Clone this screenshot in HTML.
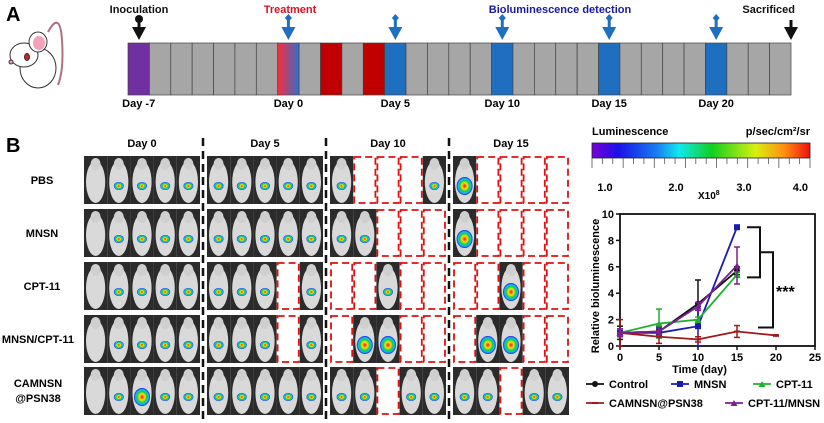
<!DOCTYPE html>
<html><head><meta charset="utf-8"><style>
html,body{margin:0;padding:0;background:#fff;}
svg{display:block;font-family:"Liberation Sans",Arial,sans-serif;}
</style></head><body>
<svg id="root" width="824" height="423" viewBox="0 0 824 423">
<defs>
<linearGradient id="tg" x1="0" x2="1"><stop offset="0" stop-color="#ff2a3a"/><stop offset="1" stop-color="#2f6fd0"/></linearGradient>
<linearGradient id="cb" x1="0" x2="1">
<stop offset="0" stop-color="#7a00d8"/><stop offset="0.12" stop-color="#1a10e8"/><stop offset="0.3" stop-color="#1880f0"/><stop offset="0.4" stop-color="#10e8f0"/><stop offset="0.55" stop-color="#10d020"/><stop offset="0.75" stop-color="#d8f010"/><stop offset="0.88" stop-color="#ff9010"/><stop offset="1" stop-color="#f01010"/></linearGradient>
<radialGradient id="blob"><stop offset="0" stop-color="#ff1010"/><stop offset="0.35" stop-color="#ffe010"/><stop offset="0.6" stop-color="#10d040"/><stop offset="0.8" stop-color="#10c0f0"/><stop offset="1" stop-color="#2020e0"/></radialGradient>
</defs>
<text x="6" y="21" font-size="20" font-weight="bold">A</text>
<text x="6" y="152" font-size="20" font-weight="bold">B</text>
<g fill="#fff" stroke="#333" stroke-width="1">
<path d="M48 32 Q60 10 62 40 Q64 70 58 85" fill="none" stroke="#b07080" stroke-width="2"/>
<ellipse cx="38" cy="68" rx="18" ry="20"/>
<ellipse cx="24" cy="55" rx="14" ry="12"/>
<ellipse cx="38" cy="42" rx="9" ry="10"/><ellipse cx="39" cy="43" rx="6" ry="7" fill="#f4a0b8" stroke="none"/>
<ellipse cx="27" cy="57" rx="2.5" ry="3.5" fill="#d02020"/>
<circle cx="11" cy="62" r="2" fill="#f4a0b8"/>
</g>
<g id="timeline"></g>
<g id="grid"></g>
<g>
<text x="592" y="135" font-size="11" font-weight="bold">Luminescence</text>
<text x="810" y="135" font-size="11" font-weight="bold" text-anchor="end">p/sec/cm²/sr</text>
<rect x="592" y="143" width="218" height="15" fill="url(#cb)" stroke="#222" stroke-width="0.8"/>
<g id="cbticks"></g>
<text x="605" y="191" font-size="11" font-weight="bold" text-anchor="middle">1.0</text>
<text x="676" y="191" font-size="11" font-weight="bold" text-anchor="middle">2.0</text>
<text x="744" y="191" font-size="11" font-weight="bold" text-anchor="middle">3.0</text>
<text x="808" y="191" font-size="11" font-weight="bold" text-anchor="end">4.0</text>
<text x="698" y="199" font-size="10" font-weight="bold">X10<tspan font-size="7" dy="-4">8</tspan></text>
</g>
<g id="chart"></g>
</svg>
<script>
const NS="http://www.w3.org/2000/svg";
function mk(p,t,a,txt){const e=document.createElementNS(NS,t);for(const k in a)e.setAttribute(k,a[k]);if(txt!==undefined)e.textContent=txt;p.appendChild(e);return e;}
const tl=document.getElementById('timeline');
const X0=128,CW=663/31;
const special={0:'#7030a0',7:'url(#tg)',9:'#c00000',11:'#c00000',12:'#1f6fc0',17:'#1f6fc0',22:'#1f6fc0',27:'#1f6fc0'};
for(let i=0;i<31;i++){const r=mk(tl,'rect',{x:X0+i*CW,y:43,width:CW,height:52,fill:special[i]||'#a6a6a6',stroke:'#444','stroke-width':0.7});
}
function arrow(cx,col,pin){mk(tl,'polygon',{points:`${cx-7},27 ${cx+7},27 ${cx},40`,fill:col});mk(tl,'rect',{x:cx-1.5,y:20,width:3,height:8,fill:col});
 if(pin==='dot')mk(tl,'circle',{cx:cx,cy:19,r:4,fill:col});else if(pin==='dia')mk(tl,'polygon',{points:`${cx},14 ${cx+3.5},18 ${cx},22 ${cx-3.5},18`,fill:col});}
arrow(139,'#111','dot');[7,12,17,22,27].forEach(i=>arrow(X0+(i+.5)*CW,'#1f6fc0','dia'));arrow(791,'#111','');
const lab=[['Inoculation',139,'#111'],['Treatment',290,'#e01020'],['Bioluminescence detection',560,'#1a1aa0'],['Sacrificed',795,'#111']];
lab.forEach(l=>{const t=mk(tl,'text',{x:l[1],y:13,'font-size':11,'font-weight':'bold',fill:l[2],'text-anchor':l[0]==='Sacrificed'?'end':'middle'},l[0]);});
[['Day -7',0],['Day 0',7],['Day 5',12],['Day 10',17],['Day 15',22],['Day 20',27]].forEach(d=>{const t=mk(tl,'text',{x:X0+(d[1]+.5)*CW,y:107,'font-size':11,'font-weight':'bold','text-anchor':'middle'},d[0]);});
const g=document.getElementById('grid');
const cols=[84,207,330,453],PW=116,SW=PW/5;
const rowsY=[156,209,262,315,367],PH=48;
const rowNames=['PBS','MNSN','CPT-11','MNSN/CPT-11','CAMNSN'];
['Day 0','Day 5','Day 10','Day 15'].forEach((d,i)=>{const t=mk(g,'text',{x:cols[i]+PW/2,y:147,'font-size':11,'font-weight':'bold','text-anchor':'middle'},d);});
[203,326,449].forEach(x=>mk(g,'line',{x1:x,y1:138,x2:x,y2:420,stroke:'#111','stroke-width':2.5,'stroke-dasharray':'8,5'}));
rowNames.forEach((n,i)=>{if(n==='CAMNSN'){mk(g,'text',{x:38,y:rowsY[i]+20,'font-size':11,'font-weight':'bold','text-anchor':'middle'},'CAMNSN');mk(g,'text',{x:38,y:rowsY[i]+35,'font-size':11,'font-weight':'bold','text-anchor':'middle'},'@PSN38');}
 else mk(g,'text',{x:n==='MNSN/CPT-11'?38:42,y:rowsY[i]+28,'font-size':11,'font-weight':'bold','text-anchor':'middle'},n);});
const alive=[['11111','11111','10001','10000'],['11111','11111','11000','10000'],['11111','11101','00100','00100'],['11111','11101','01100','01100'],['11111','11111','11011','11011']];
const big=[[0,0,0,1],[0,0,0,1],[0,0,0,1],[0,0,1,1],[1,0,0,0]];
alive.forEach((row,r)=>row.forEach((s,c)=>{for(let k=0;k<5;k++){const x=cols[c]+k*SW,y=rowsY[r];
 if(s[k]==='1'){const m=mk(g,'rect',{x:x,y:y,width:SW,height:PH,fill:'#2b2b2b'});
  mk(g,'ellipse',{cx:x+SW/2,cy:y+26,rx:SW/2-2,ry:PH/2-3,fill:'#d9d9d9'});mk(g,'ellipse',{cx:x+SW/2,cy:y+8,rx:5,ry:6,fill:'#cfcfcf'});
  if(!(c===0&&k===0)){const b=big[r][c]&&(r!==4||k===2);mk(g,'ellipse',{cx:x+SW/2,cy:y+30,rx:b?8:5,ry:b?9:4,fill:'url(#blob)'});}}
 else{const d=mk(g,'rect',{x:x+1,y:y+1,width:SW-2,height:PH-2,fill:'#fff',stroke:'#e01010','stroke-width':1.8,'stroke-dasharray':'7,4'});}
}}));
const cbt=document.getElementById('cbticks');for(let i=0;i<=21;i++){const x=592+i*218/21;mk(cbt,'line',{x1:x,y1:158,x2:x,y2:i%3===0?168:164,stroke:'#555','stroke-width':0.8});}
const days=[0,5,10,15,20];
const controlVals=[1,1.1,3.2,5.7];const controlErr=[0.5,0.4,1.8,0.3];
const mnsnVals=[1,1.0,1.5,9.0];const mnsnErr=[0.3,0.3,1.5,0.1];
const cptVals=[1,1.7,2.0,5.4];const cptErr=[0.3,1.1,0.2,0.2];
const camVals=[1,0.7,0.5,1.1,0.8];const camErr=[1.0,0.5,0.2,0.45,0.05];
const comboVals=[1,1.1,3.0,6.1];const comboErr=[0.3,0.3,0.3,1.4];
const xTicks=[0,5,10,15,20,25];const yTicks=[0,2,4,6,8,10];
const ch=document.getElementById('chart');
const L=620,R=815,T=214,B=346;
const xs=v=>L+(R-L)*v/25, ys=v=>B-(B-T)*v/10;
mk(ch,'rect',{x:L,y:T,width:R-L,height:B-T,fill:'none',stroke:'#111','stroke-width':1.8});
xTicks.forEach(v=>{mk(ch,'line',{x1:xs(v),y1:B,x2:xs(v),y2:B+4,stroke:'#111','stroke-width':1.5});const t=mk(ch,'text',{x:xs(v),y:B+15,'font-size':11,'font-weight':'bold','text-anchor':'middle'},v);});
yTicks.forEach(v=>{mk(ch,'line',{x1:L-4,y1:ys(v),x2:L,y2:ys(v),stroke:'#111','stroke-width':1.5});const t=mk(ch,'text',{x:L-6,y:ys(v)+4,'font-size':11,'font-weight':'bold','text-anchor':'end'},v);});
const xt=mk(ch,'text',{x:(L+R)/2-18,y:373,'font-size':11,'font-weight':'bold','text-anchor':'middle'},'Time (day)');
const yt=mk(ch,'text',{x:0,y:0,'font-size':11,'font-weight':'bold','text-anchor':'middle',transform:`translate(599,${(T+B)/2+6}) rotate(-90)`},'Relative bioluminescence');
const series=[['control',controlVals,controlErr,'#111','circle'],['mnsn',mnsnVals,mnsnErr,'#1a1ab0','square'],['cpt-11',cptVals,cptErr,'#20b030','tri'],['camnsn',camVals,camErr,'#a01818','plus'],['cpt-11-mnsn',comboVals,comboErr,'#7a2090','tri']];
function marker(p,x,y,col,shape){if(shape==='circle')return mk(p,'circle',{cx:x,cy:y,r:3,fill:col});if(shape==='square')return mk(p,'rect',{x:x-3,y:y-3,width:6,height:6,fill:col});if(shape==='tri')return mk(p,'polygon',{points:`${x-3.5},${y+3} ${x+3.5},${y+3} ${x},${y-3}`,fill:col});return mk(p,'rect',{x:x-3,y:y-1,width:6,height:2,fill:col});}
series.forEach(s=>{const grp=mk(ch,'g',{});
 const pts=s[1].map((v,i)=>xs(days[i])+','+ys(v)).join(' ');
 const pl=mk(grp,'polyline',{points:pts,fill:'none',stroke:s[3],'stroke-width':1.8});
 s[1].forEach((v,i)=>{const x=xs(days[i]),e=s[2][i];mk(grp,'line',{x1:x,y1:ys(v-e),x2:x,y2:ys(v+e),stroke:s[3],'stroke-width':1.5});mk(grp,'line',{x1:x-3,y1:ys(v-e),x2:x+3,y2:ys(v-e),stroke:s[3],'stroke-width':1.5});mk(grp,'line',{x1:x-3,y1:ys(v+e),x2:x+3,y2:ys(v+e),stroke:s[3],'stroke-width':1.5});
  const m=marker(grp,x,ys(v),s[3],s[4]);});});
mk(ch,'polyline',{points:`747,${ys(9)} 760,${ys(9)} 760,${ys(5.2)} 747,${ys(5.2)}`,fill:'none',stroke:'#111','stroke-width':2});
mk(ch,'polyline',{points:`761,${ys(7.1)} 773,${ys(7.1)} 773,${ys(1.4)} 758,${ys(1.4)}`,fill:'none',stroke:'#111','stroke-width':2});
const st=mk(ch,'text',{x:776,y:ys(4.3)+8,'font-size':16,'font-weight':'bold'},'***');
const leg=[['Control',595,384,'#111','circle'],['MNSN',680,384,'#1a1ab0','square'],['CPT-11',762,384,'#20b030','tri'],['CAMNSN@PSN38',595,403,'#a01818','plus'],['CPT-11/MNSN',734,403,'#7a2090','tri']];
leg.forEach(l=>{const gg=mk(ch,'g',{});
 mk(gg,'line',{x1:l[1]-9,y1:l[2],x2:l[1]+9,y2:l[2],stroke:l[3],'stroke-width':1.8});marker(gg,l[1],l[2],l[3],l[4]);
 mk(gg,'text',{x:l[1]+14,y:l[2]+4,'font-size':11,'font-weight':'bold'},l[0]);});
</script>
</body></html>
